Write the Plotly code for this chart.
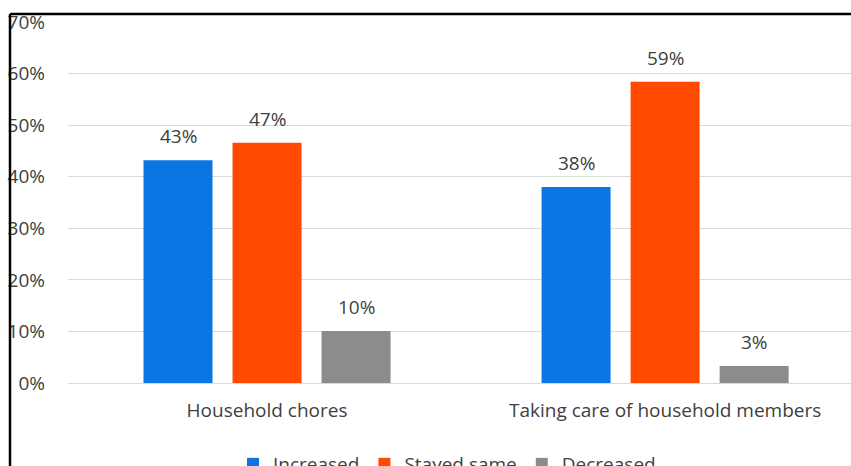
import plotly.graph_objects as go

categories = ["Household chores", "Taking care of household members"]
series_names = ["Increased", "Stayed same", "Decreased"]
increased = [0.432, 0.38]
stayed_same = [0.466, 0.584]
decreased = [0.101, 0.033]
increased_labels = ["43%", "38%"]
stayed_labels = ["47%", "59%"]
decreased_labels = ["10%", "3%"]
colors = ["#0B76E3", "#FF4A00", "#8C8C8C"]
y_ticks = [0, 0.1, 0.2, 0.3, 0.4, 0.5, 0.6, 0.7]
y_tick_labels = ["0%", "10%", "20%", "30%", "40%", "50%", "60%", "70%"]

FONT = "Open Sans"
TXT = "#404040"
FS = 19

fig = go.Figure()
annotations = []
bar_offsets = [-89, 0, 89]
for name, vals, labels, col, off in zip(series_names,
                                        [increased, stayed_same, decreased],
                                        [increased_labels, stayed_labels, decreased_labels],
                                        colors, bar_offsets):
    fig.add_trace(go.Bar(
        x=categories, y=vals, name=name,
        marker=dict(color=col, line=dict(width=0)),
        hoverinfo="skip",
    ))
    for c, v, t in zip(categories, vals, labels):
        annotations.append(dict(
            x=c, y=v, xref="x", yref="y", text=t, showarrow=False,
            xshift=off, yshift=9, yanchor="bottom", xanchor="center",
            font=dict(family=FONT, size=FS, color=TXT),
        ))

W, H = 851, 466
ml, mr, mt, mb = 68, 0, 22, 83
pw = W - ml - mr
ph = H - mt - mb

def px_x(p):
    return (p - ml) / pw

def px_y(p):
    return (H - mb - p) / ph

fig.update_layout(
    width=W, height=H,
    margin=dict(l=ml, r=mr, t=mt, b=mb, pad=0, autoexpand=False),
    paper_bgcolor="white", plot_bgcolor="white",
    barmode="group", bargap=0.329, bargroupgap=0.225,
    font=dict(family=FONT, size=FS, color=TXT),
    showlegend=True,
    legend=dict(orientation="h", x=px_x(447), xanchor="center",
                yref="container", y=(H - 464) / H, yanchor="middle",
                font=dict(family=FONT, size=FS, color=TXT),
                itemwidth=30, traceorder="normal", bgcolor="rgba(0,0,0,0)"),
    xaxis=dict(type="category", range=[-0.5, 1.467], showgrid=False,
               showline=False, ticks="", tickfont=dict(family=FONT, size=FS, color=TXT),
               ticklabelstandoff=14),
    yaxis=dict(range=[0, 0.7], tickvals=y_ticks, ticktext=y_tick_labels,
               showgrid=True, gridcolor="#D9D9D9", gridwidth=1,
               zeroline=True, zerolinecolor="#D9D9D9", zerolinewidth=1,
               showline=False, ticks="", ticklabelstandoff=22,
               tickfont=dict(family=FONT, size=FS, color=TXT)),
    annotations=annotations,
    shapes=[
        dict(type="line", xref="paper", yref="paper",
             x0=px_x(10), x1=px_x(851), y0=px_y(14), y1=px_y(14),
             line=dict(color="black", width=2.5)),
        dict(type="line", xref="paper", yref="paper",
             x0=px_x(10), x1=px_x(10), y0=px_y(14), y1=px_y(470),
             line=dict(color="black", width=2.5)),
    ],
)

fig.write_html("out.html")
